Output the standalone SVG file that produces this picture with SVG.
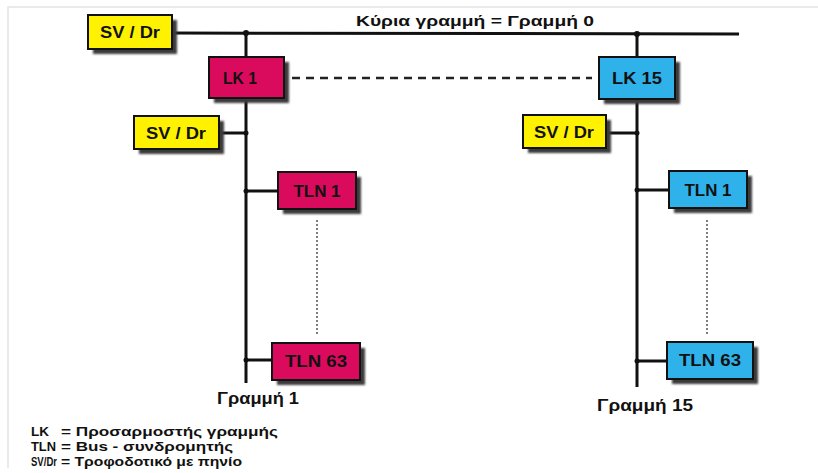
<svg xmlns="http://www.w3.org/2000/svg" width="818" height="473" viewBox="0 0 818 473">
<defs>
<filter id="blur" x="-20%" y="-20%" width="140%" height="140%"><feGaussianBlur stdDeviation="1.2"/></filter>
</defs>
<style>
text{font-family:"Liberation Sans",Arial,sans-serif;font-weight:bold;fill:#111}
.lbl{font-size:16px;text-anchor:middle}
.box{stroke:#111;stroke-width:2}
.sh{fill:#3a3a3a;filter:url(#blur)}
.sv{fill:#FFF200}
.pk{fill:#DA0A5C}
.bl{fill:#2FB2EA}
.ln{stroke:#111;stroke-width:3;fill:none}
.dot{fill:#111}
.leg{font-size:12px}
</style>
<rect width="818" height="473" fill="#fff"/>
<path d="M8 468 V7 H818" fill="none" stroke="#e4e4e4" stroke-width="1.5"/>
<g id="connectors">
<line class="ln" x1="172" y1="33" x2="739" y2="34"/>
<line class="ln" x1="246" y1="33" x2="246" y2="383"/>
<line class="ln" x1="637" y1="34" x2="637" y2="387"/>
<line class="ln" x1="219" y1="133" x2="246" y2="133"/>
<line class="ln" x1="606" y1="133" x2="637" y2="133"/>
<line class="ln" x1="246" y1="191" x2="278" y2="191"/>
<line class="ln" x1="246" y1="360" x2="272" y2="360"/>
<line class="ln" x1="637" y1="190" x2="669" y2="190"/>
<line class="ln" x1="637" y1="361" x2="667" y2="361"/>
<line x1="292" y1="78" x2="592" y2="78" stroke="#222" stroke-width="2.5" stroke-dasharray="8 6"/>
<line x1="317" y1="220" x2="317" y2="335" stroke="#555" stroke-width="1.5" stroke-dasharray="2 2"/>
<line x1="707" y1="220" x2="707" y2="335" stroke="#555" stroke-width="1.5" stroke-dasharray="2 2"/>
<circle class="dot" cx="246" cy="33" r="3"/>
<circle class="dot" cx="637" cy="34" r="3"/>
<circle class="dot" cx="246" cy="133" r="2.5"/>
<circle class="dot" cx="637" cy="133" r="2.5"/>
<circle class="dot" cx="246" cy="191" r="2.5"/>
<circle class="dot" cx="246" cy="360" r="2.5"/>
<circle class="dot" cx="637" cy="190" r="2.5"/>
<circle class="dot" cx="637" cy="361" r="2.5"/>
</g>
<text x="475" y="26" font-size="15" text-anchor="middle" textLength="238" lengthAdjust="spacingAndGlyphs">Κύρια γραμμή = Γραμμή 0</text>
<g id="svdr-main">
<rect class="sh" x="93" y="20" width="84" height="34"/>
<rect class="box sv" x="88" y="15" width="84" height="34"/>
<text class="lbl" x="130" y="38" textLength="60" lengthAdjust="spacingAndGlyphs">SV / Dr</text>
</g>
<g id="lk1">
<rect class="sh" x="214" y="62" width="75" height="41"/>
<rect class="box pk" x="209" y="57" width="75" height="41"/>
<text class="lbl" x="240" y="84" textLength="34" lengthAdjust="spacingAndGlyphs">LK 1</text>
</g>
<g id="lk15">
<rect class="sh" x="604" y="62" width="76" height="42"/>
<rect class="box bl" x="599" y="57" width="76" height="42"/>
<text class="lbl" x="637" y="84" textLength="50" lengthAdjust="spacingAndGlyphs">LK 15</text>
</g>
<g id="svdr-1">
<rect class="sh" x="139" y="121" width="85" height="33"/>
<rect class="box sv" x="134" y="116" width="85" height="33"/>
<text class="lbl" x="176" y="139" textLength="60" lengthAdjust="spacingAndGlyphs">SV / Dr</text>
</g>
<g id="svdr-15">
<rect class="sh" x="528" y="120" width="83" height="33"/>
<rect class="box sv" x="523" y="115" width="83" height="33"/>
<text class="lbl" x="564" y="138" textLength="60" lengthAdjust="spacingAndGlyphs">SV / Dr</text>
</g>
<g id="tln1-1">
<rect class="sh" x="283" y="177" width="78" height="37"/>
<rect class="box pk" x="278" y="172" width="78" height="37"/>
<text class="lbl" x="317" y="197" textLength="47" lengthAdjust="spacingAndGlyphs">TLN 1</text>
</g>
<g id="tln63-1">
<rect class="sh" x="277" y="348" width="88" height="37"/>
<rect class="box pk" x="272" y="343" width="88" height="37"/>
<text class="lbl" x="316" y="367" textLength="62" lengthAdjust="spacingAndGlyphs">TLN 63</text>
</g>
<g id="tln1-15">
<rect class="sh" x="674" y="176" width="78" height="37"/>
<rect class="box bl" x="669" y="171" width="78" height="37"/>
<text class="lbl" x="708" y="196" textLength="47" lengthAdjust="spacingAndGlyphs">TLN 1</text>
</g>
<g id="tln63-15">
<rect class="sh" x="672" y="347" width="86" height="37"/>
<rect class="box bl" x="667" y="342" width="86" height="37"/>
<text class="lbl" x="710" y="366" textLength="62" lengthAdjust="spacingAndGlyphs">TLN 63</text>
</g>
<text x="258" y="404" font-size="16" text-anchor="middle" textLength="82" lengthAdjust="spacingAndGlyphs">Γραμμή 1</text>
<text x="645" y="411" font-size="16" text-anchor="middle" textLength="96" lengthAdjust="spacingAndGlyphs">Γραμμή 15</text>
<g id="legend">
<text class="leg" x="31" y="436" textLength="18" lengthAdjust="spacingAndGlyphs">LK</text>
<text class="leg" x="61" y="436" textLength="217" lengthAdjust="spacingAndGlyphs">= Προσαρμοστής γραμμής</text>
<text class="leg" x="31" y="451" textLength="25" lengthAdjust="spacingAndGlyphs">TLN</text>
<text class="leg" x="61" y="451" textLength="172" lengthAdjust="spacingAndGlyphs">= Bus - συνδρομητής</text>
<text class="leg" x="31" y="466" textLength="26" lengthAdjust="spacingAndGlyphs">SV/Dr</text>
<text class="leg" x="61" y="466" textLength="181" lengthAdjust="spacingAndGlyphs">= Τροφοδοτικό με πηνίο</text>
</g>
</svg>
